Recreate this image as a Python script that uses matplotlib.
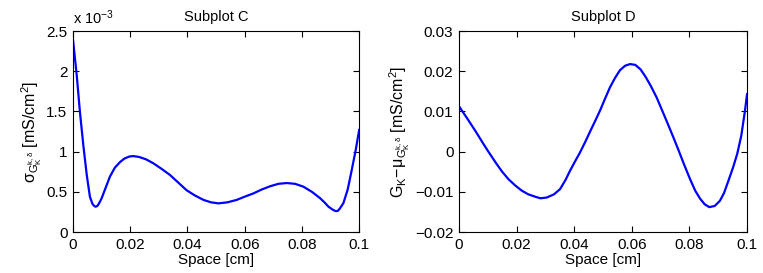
import numpy as np
import matplotlib.pyplot as plt
from matplotlib.ticker import FixedLocator, FuncFormatter

plt.rcParams['font.family'] = ['Liberation Sans', 'DejaVu Sans']
plt.rcParams['mathtext.fontset'] = 'custom'
plt.rcParams['mathtext.rm'] = 'Liberation Sans'
plt.rcParams['mathtext.it'] = 'Liberation Sans'
plt.rcParams['mathtext.sf'] = 'Liberation Sans'
plt.rcParams['mathtext.default'] = 'regular'

#################################################
#            Data         #
#################################################

# Subplot C: std of G_K, in units of 1e-3 mS/cm^2
x_c = [0.0, 0.0013, 0.0024, 0.0036, 0.0048, 0.0059, 0.0068, 0.0074, 0.0079,
       0.0085, 0.0090, 0.0100, 0.0115, 0.0129, 0.0146, 0.0164, 0.0180, 0.0197,
       0.0211, 0.0230, 0.0255, 0.0281, 0.0310, 0.0339, 0.0368, 0.0397, 0.0426,
       0.0456, 0.0482, 0.0508, 0.0540, 0.0572, 0.0600, 0.0630, 0.0660, 0.0689,
       0.0718, 0.0747, 0.0776, 0.0805, 0.0835, 0.0864, 0.0880, 0.0893, 0.0907,
       0.0915, 0.0920, 0.0926, 0.0932, 0.0945, 0.0960, 0.0974, 0.0988, 0.1000]
sigma_c = [2.39, 1.95, 1.50, 1.08, 0.71, 0.44, 0.35, 0.325, 0.315,
           0.325, 0.35, 0.42, 0.56, 0.69, 0.80, 0.87, 0.915, 0.94,
           0.945, 0.935, 0.905, 0.855, 0.785, 0.71, 0.615, 0.52, 0.455,
           0.40, 0.37, 0.357, 0.37, 0.40, 0.44, 0.48, 0.53, 0.57,
           0.60, 0.61, 0.60, 0.565, 0.50, 0.42, 0.365, 0.315, 0.28,
           0.265, 0.26, 0.265, 0.29, 0.36, 0.53, 0.77, 1.02, 1.27]

# Subplot D: G_K minus its mean, mS/cm^2
x_d = [0.0, 0.003, 0.006, 0.0085, 0.0102, 0.013, 0.0150, 0.0171, 0.0195,
       0.0218, 0.0240, 0.0264, 0.0283, 0.0305, 0.0330, 0.0351, 0.0370, 0.0385,
       0.0403, 0.0420, 0.0438, 0.0455, 0.0473, 0.0490, 0.0507, 0.0524, 0.0542,
       0.0559, 0.0577, 0.0594, 0.0612, 0.0630, 0.0648, 0.0667, 0.0686, 0.0705,
       0.0725, 0.0744, 0.0763, 0.0782, 0.0802, 0.0820, 0.0837, 0.0853, 0.0869,
       0.0888, 0.0906, 0.0920, 0.0935, 0.0952, 0.0966, 0.0980, 0.0993, 0.1000]
dev_d = [0.0113, 0.0081, 0.0048, 0.0019, 0.0000, -0.0030, -0.0050, -0.0068, -0.0084,
         -0.0097, -0.0106, -0.0112, -0.0116, -0.0114, -0.0106, -0.0093, -0.0070, -0.0048,
         -0.0024, -0.0002, 0.0024, 0.0050, 0.0077, 0.0103, 0.0132, 0.0160, 0.0184,
         0.0203, 0.0214, 0.0218, 0.0216, 0.0205, 0.0186, 0.0162, 0.0135, 0.0103,
         0.0069, 0.0036, 0.0002, -0.0033, -0.0068, -0.0097, -0.0117, -0.0131, -0.0138,
         -0.0135, -0.0122, -0.0103, -0.0073, -0.0038, -0.0005, 0.0040, 0.0103, 0.0143]

x_ticks = [0, 0.02, 0.04, 0.06, 0.08, 0.1]
c_yticks = [0, 0.5, 1, 1.5, 2, 2.5]
d_yticks = [-0.02, -0.01, 0, 0.01, 0.02, 0.03]

#################################################
#            Figure                             #
#################################################

fig = plt.figure(figsize=(7.63, 2.73), dpi=100)
ax_c = fig.add_axes([0.0957, 0.150, 0.375, 0.736])
ax_d = fig.add_axes([0.6016, 0.150, 0.3775, 0.736])


def fmt(v, pos):
    return f'{v:g}'.replace('-', '\u2212')


for ax in (ax_c, ax_d):
    ax.tick_params(direction='in', top=True, right=True, labelsize=11,
                   length=4, width=0.8, pad=4)
    ax.set_xlim(0, 0.1)
    ax.xaxis.set_major_locator(FixedLocator(x_ticks))
    ax.xaxis.set_major_formatter(FuncFormatter(fmt))
    ax.yaxis.set_major_formatter(FuncFormatter(fmt))
    ax.set_xlabel('Space [cm]', fontsize=11, labelpad=1)
    for sp in ax.spines.values():
        sp.set_linewidth(0.8)

ax_c.plot(x_c, sigma_c, color='#0000ff', lw=1.6)
ax_c.set_ylim(0, 2.5)
ax_c.yaxis.set_major_locator(FixedLocator(c_yticks))
ax_c.set_title('Subplot C', fontsize=10.5, pad=7)
ax_c.set_ylabel(r'$\sigma_{G_K^{k,\delta}}$ [mS/cm$^2$]', fontsize=11.5, labelpad=2)
ax_c.text(0.0, 1.02, r'x 10$^{-3}$', transform=ax_c.transAxes,
          fontsize=10.5, ha='left', va='bottom')

ax_d.plot(x_d, dev_d, color='#0000ff', lw=1.6)
ax_d.set_ylim(-0.02, 0.03)
ax_d.yaxis.set_major_locator(FixedLocator(d_yticks))
ax_d.set_title('Subplot D', fontsize=10.5, pad=7)
ax_d.set_ylabel(r'$G_K\!-\!\mu_{G_K^{k,\delta}}$ [mS/cm$^2$]', fontsize=11.5, labelpad=2)

fig.savefig('out.png', dpi=100)
